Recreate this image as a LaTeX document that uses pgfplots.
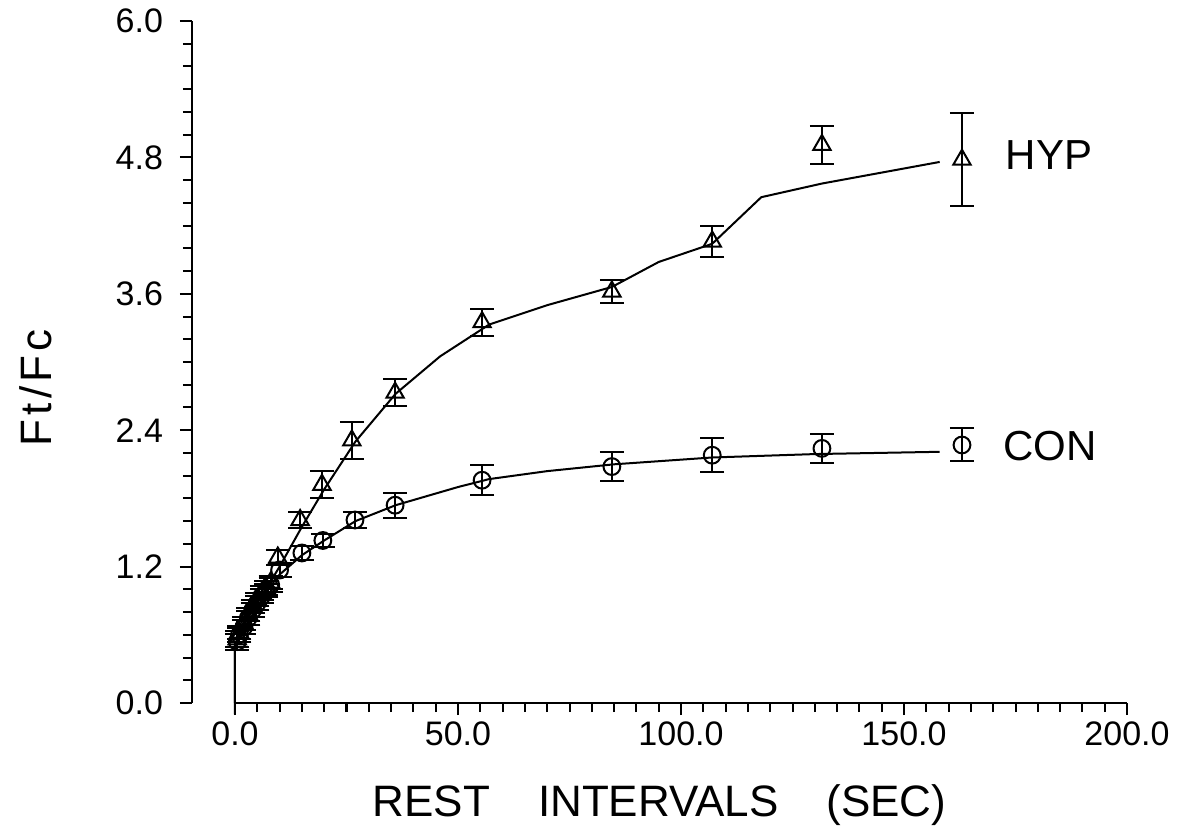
\documentclass[border=0pt]{standalone}
\usepackage{fontspec}
\setmainfont{Liberation Sans}
\usepackage{pgfplots}
\pgfplotsset{compat=1.18}

\pgfplotstableread{
x y e
163.0 4.78 0.41
131.6 4.91 0.165
107.0 4.06 0.14
84.5 3.62 0.10
55.4 3.35 0.12
35.9 2.73 0.12
26.2 2.31 0.16
19.5 1.92 0.12
14.6 1.61 0.07
9.6 1.28 0.07
8.0 1.06 0.06
7.0 1.01 0.06
6.0 0.97 0.06
5.0 0.91 0.06
4.0 0.85 0.06
3.0 0.78 0.06
2.0 0.70 0.06
1.0 0.62 0.06
0.5 0.56 0.07
}\hyp

\pgfplotstableread{
x y e
163.0 2.27 0.145
131.6 2.24 0.13
107.0 2.18 0.15
84.5 2.08 0.13
55.4 1.96 0.13
35.9 1.74 0.11
26.9 1.61 0.07
19.7 1.43 0.06
15.0 1.32 0.06
10.0 1.17 0.06
8.0 1.04 0.06
7.0 0.99 0.06
6.0 0.94 0.06
5.0 0.88 0.06
4.0 0.82 0.06
3.0 0.75 0.06
2.0 0.67 0.06
1.0 0.60 0.06
0.5 0.54 0.07
}\con

\begin{document}
\begin{tikzpicture}
\path[use as bounding box] (-117.5pt,-64pt) rectangle (471pt,351.5pt);
\begin{axis}[
  at={(0pt,0pt)}, anchor=south west,
  scale only axis, width=446pt, height=341pt,
  xmin=0, xmax=200, ymin=0, ymax=6,
  axis lines=left,
  axis line style={-, line width=1pt},
  axis y line shift=21.5pt,
  xtick={0,50,100,150,200}, minor x tick num=9,
  ytick={0,1.2,2.4,3.6,4.8,6.0}, minor y tick num=5,
  tick align=outside,
  major tick length=6pt, minor tick length=4.5pt,
  every tick/.style={line width=1pt, black},
  xticklabel style={font=\fontsize{17}{19}\selectfont, /pgf/number format/.cd, fixed, fixed zerofill, precision=1, assume math mode=true},
  yticklabel style={font=\fontsize{17}{19}\selectfont, xshift=-5pt, /pgf/number format/.cd, fixed, fixed zerofill, precision=1, assume math mode=true},
  xlabel={REST\hspace{24pt}INTERVALS\hspace{24pt}(SEC)},
  xlabel style={font=\fontsize{22}{25}\selectfont, at={(axis description cs:0.476,0)}, anchor=center, yshift=-51pt},
  ylabel={F\hspace{2pt}t\hspace{2pt}/\hspace{2pt}F\hspace{2pt}c},
  ylabel style={font=\fontsize{22}{25}\selectfont, at={(axis description cs:-0.2231,0.462)}, anchor=center},
  clip=false,
]
\addplot[black, line width=1pt] coordinates {
(0,-0.1) (0,0.52) (1,0.6) (2,0.68) (4,0.82) (6,0.95) (8,1.07) (10,1.2) (15,1.55) (20,1.88) (27,2.3) (36,2.72) (46,3.05) (57,3.33) (70,3.5) (84.5,3.66) (95,3.88) (107,4.04) (118,4.45) (131.6,4.57) (158,4.76)
};
\addplot[black, line width=1pt] coordinates {
(0,0) (0,0.5) (1,0.58) (2,0.65) (5,0.85) (8,1.03) (10,1.13) (15,1.3) (20,1.43) (27,1.6) (36,1.74) (50,1.9) (57,1.97) (70,2.04) (85,2.1) (107,2.16) (130,2.19) (158,2.21)
};
\addplot[black, line width=1pt, only marks, mark=triangle, mark size=5pt,
  error bars/.cd, y dir=both, y explicit,
  error bar style={line width=1pt},
  error mark options={rotate=90, mark size=6pt, line width=1pt, black}]
  table[x=x, y=y, y error=e] {\hyp};
\addplot[black, line width=1pt, only marks, mark=o, mark size=4.2pt,
  error bars/.cd, y dir=both, y explicit,
  error bar style={line width=1pt},
  error mark options={rotate=90, mark size=6pt, line width=1pt, black}]
  table[x=x, y=y, y error=e] {\con};
\node[font=\fontsize{21}{24}\selectfont] at (axis cs:182.5,4.82) {HYP};
\node[font=\fontsize{21}{24}\selectfont] at (axis cs:182.7,2.26) {CON};
\end{axis}
\end{tikzpicture}
\end{document}
